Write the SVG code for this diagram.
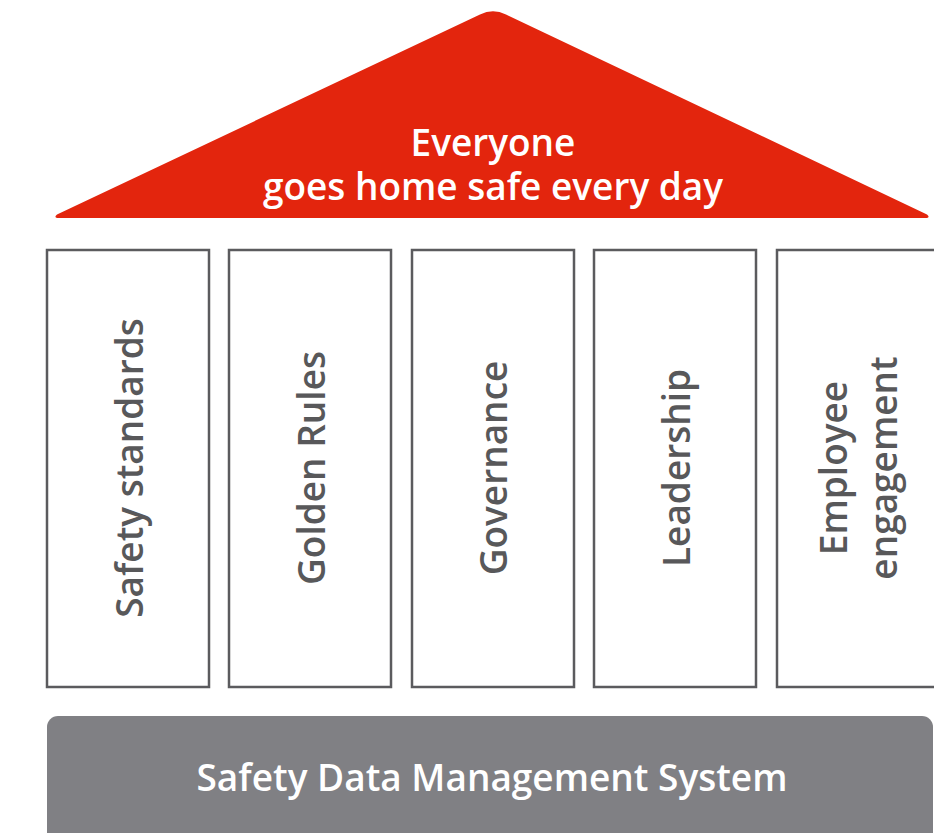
<svg xmlns="http://www.w3.org/2000/svg" width="934" height="833" viewBox="0 0 934 833">
<style>
.col{fill:#fff;stroke:#5b5b5e;stroke-width:2.5}
.ct{font-family:"Open Sans",sans-serif;font-weight:600;font-size:37px;fill:#58585a;text-anchor:middle}
.wt{font-family:"Open Sans",sans-serif;font-weight:600;fill:#fff;text-anchor:middle}
</style>
<g id="roof">
<path d="M57,214.5 L480,14.5 Q493,8 506,14.5 L927,214.5 Q931,218 925,218 L59,218 Q53,218 57,214.5 Z" fill="#e3250d"/>
<text class="wt" x="493" y="156" font-size="37">Everyone</text>
<text class="wt" x="493" y="200" font-size="37">goes home safe every day</text>
</g>
<g id="col1"><rect class="col" x="47" y="250" width="162" height="437"/><text class="ct" transform="translate(143,468) rotate(-90)">Safety standards</text></g>
<g id="col2"><rect class="col" x="229" y="250" width="162" height="437"/><text class="ct" transform="translate(325,468) rotate(-90)">Golden Rules</text></g>
<g id="col3"><rect class="col" x="412" y="250" width="162" height="437"/><text class="ct" transform="translate(507,468) rotate(-90)">Governance</text></g>
<g id="col4"><rect class="col" x="594" y="250" width="162" height="437"/><text class="ct" transform="translate(690,468) rotate(-90)">Leadership</text></g>
<g id="col5"><rect class="col" x="777" y="250" width="170" height="437"/><text class="ct" transform="translate(847,468) rotate(-90)">Employee</text><text class="ct" transform="translate(897,468) rotate(-90)">engagement</text></g>
<g id="base">
<rect x="47" y="716" width="886" height="140" rx="11" fill="#808084"/>
<text class="wt" x="492" y="791" font-size="37">Safety Data Management System</text>
</g>
<g id="connectors"/>
</svg>
